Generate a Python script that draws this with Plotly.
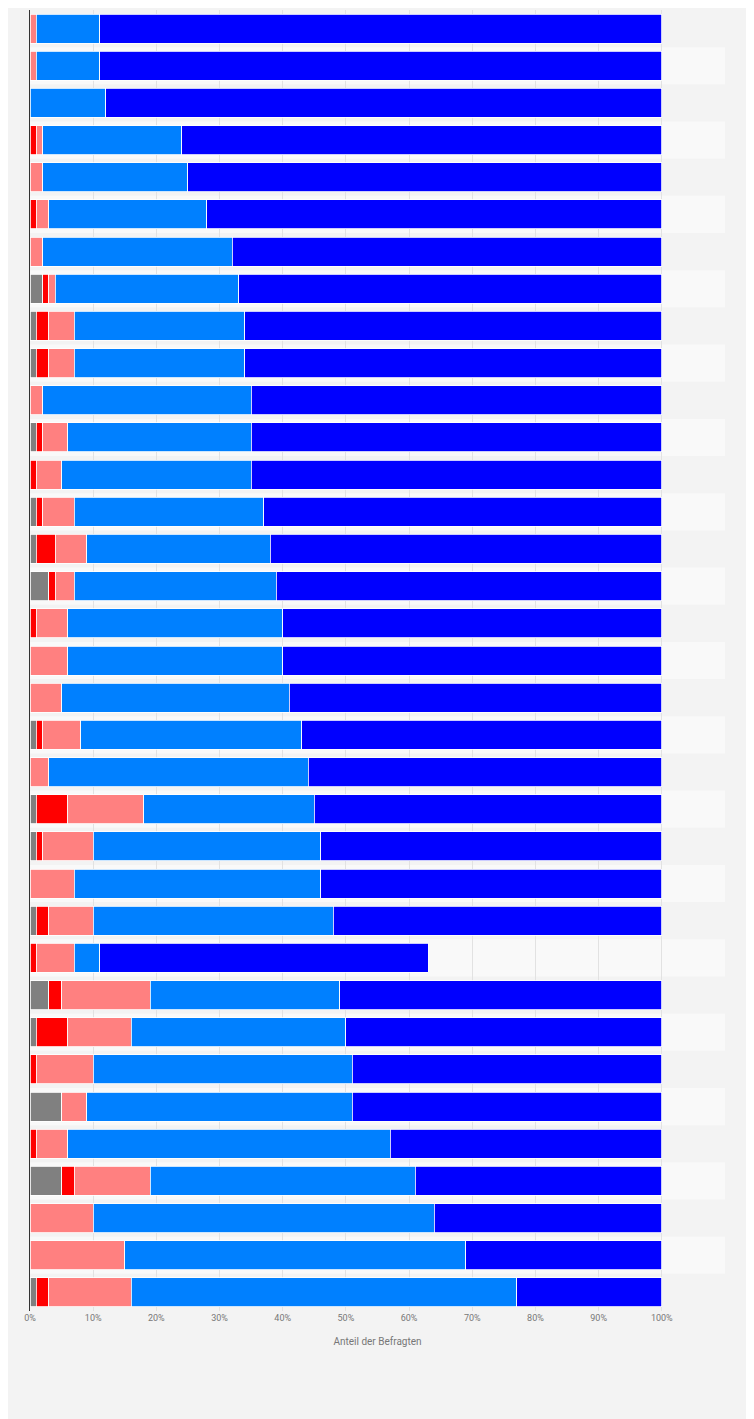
import plotly.graph_objects as go

rows = [str(i) for i in range(1, 36)]
grey = [0,0,0,0,0,0,0,2,1,1,0,1,0,1,1,3,0,0,0,1,0,1,1,0,1,0,3,1,0,5,0,5,0,0,1]
red = [0,0,0,1,0,1,0,1,2,2,0,1,1,1,3,1,1,0,0,1,0,5,1,0,2,1,2,5,1,0,1,2,0,0,2]
salmon = [1,1,0,1,2,2,2,1,4,4,2,4,4,5,5,3,5,6,5,6,3,12,8,7,7,6,14,10,9,4,5,12,10,15,13]
lightblue = [10,10,12,22,23,25,30,29,27,27,33,29,30,30,29,32,34,34,36,35,41,27,36,39,38,4,30,34,41,42,51,42,54,54,61]
blue = [89,89,88,76,75,72,68,67,66,66,65,65,65,63,62,61,60,60,59,57,56,55,54,54,52,52,51,50,49,49,43,39,36,31,23]

series = [
    ("grey", grey, "#808080"),
    ("red", red, "#ff0000"),
    ("salmon", salmon, "#ff8080"),
    ("lightblue", lightblue, "#0080ff"),
    ("blue", blue, "#0000ff"),
]

fig = go.Figure()
for name, vals, col in series:
    fig.add_trace(go.Bar(y=rows, x=vals, name=name, orientation="h",
                         marker=dict(color=col, line=dict(color="white", width=0.8)),
                         showlegend=False))

# alternating row bands
for i, r in enumerate(rows):
    if i % 2 == 1:
        fig.add_shape(type="rect", xref="paper", x0=0, x1=1, yref="y",
                      y0=i - 0.5, y1=i + 0.5, fillcolor="#f9f9f9",
                      line_width=0, layer="below")

fig.update_layout(
    barmode="stack", bargap=0.22,
    width=754, height=1419,
    margin=dict(l=22, r=37, t=2, b=116),
    paper_bgcolor="#f3f3f3", plot_bgcolor="#f3f3f3",
    font=dict(family="Roboto", color="#666"),
)
fig.update_yaxes(autorange="reversed", showticklabels=False, showgrid=False,
                 showline=True, linecolor="#333", linewidth=1)
fig.update_xaxes(range=[0, 110], tickvals=list(range(0, 101, 10)),
                 ticktext=[f"{v}%" for v in range(0, 101, 10)],
                 tickfont=dict(size=9, color="#777"), showgrid=True,
                 gridcolor="#e2e2e2", zeroline=False,
                 title=dict(text="Anteil der Befragten", font=dict(size=10, color="#777")))

fig.write_html("out.html")
